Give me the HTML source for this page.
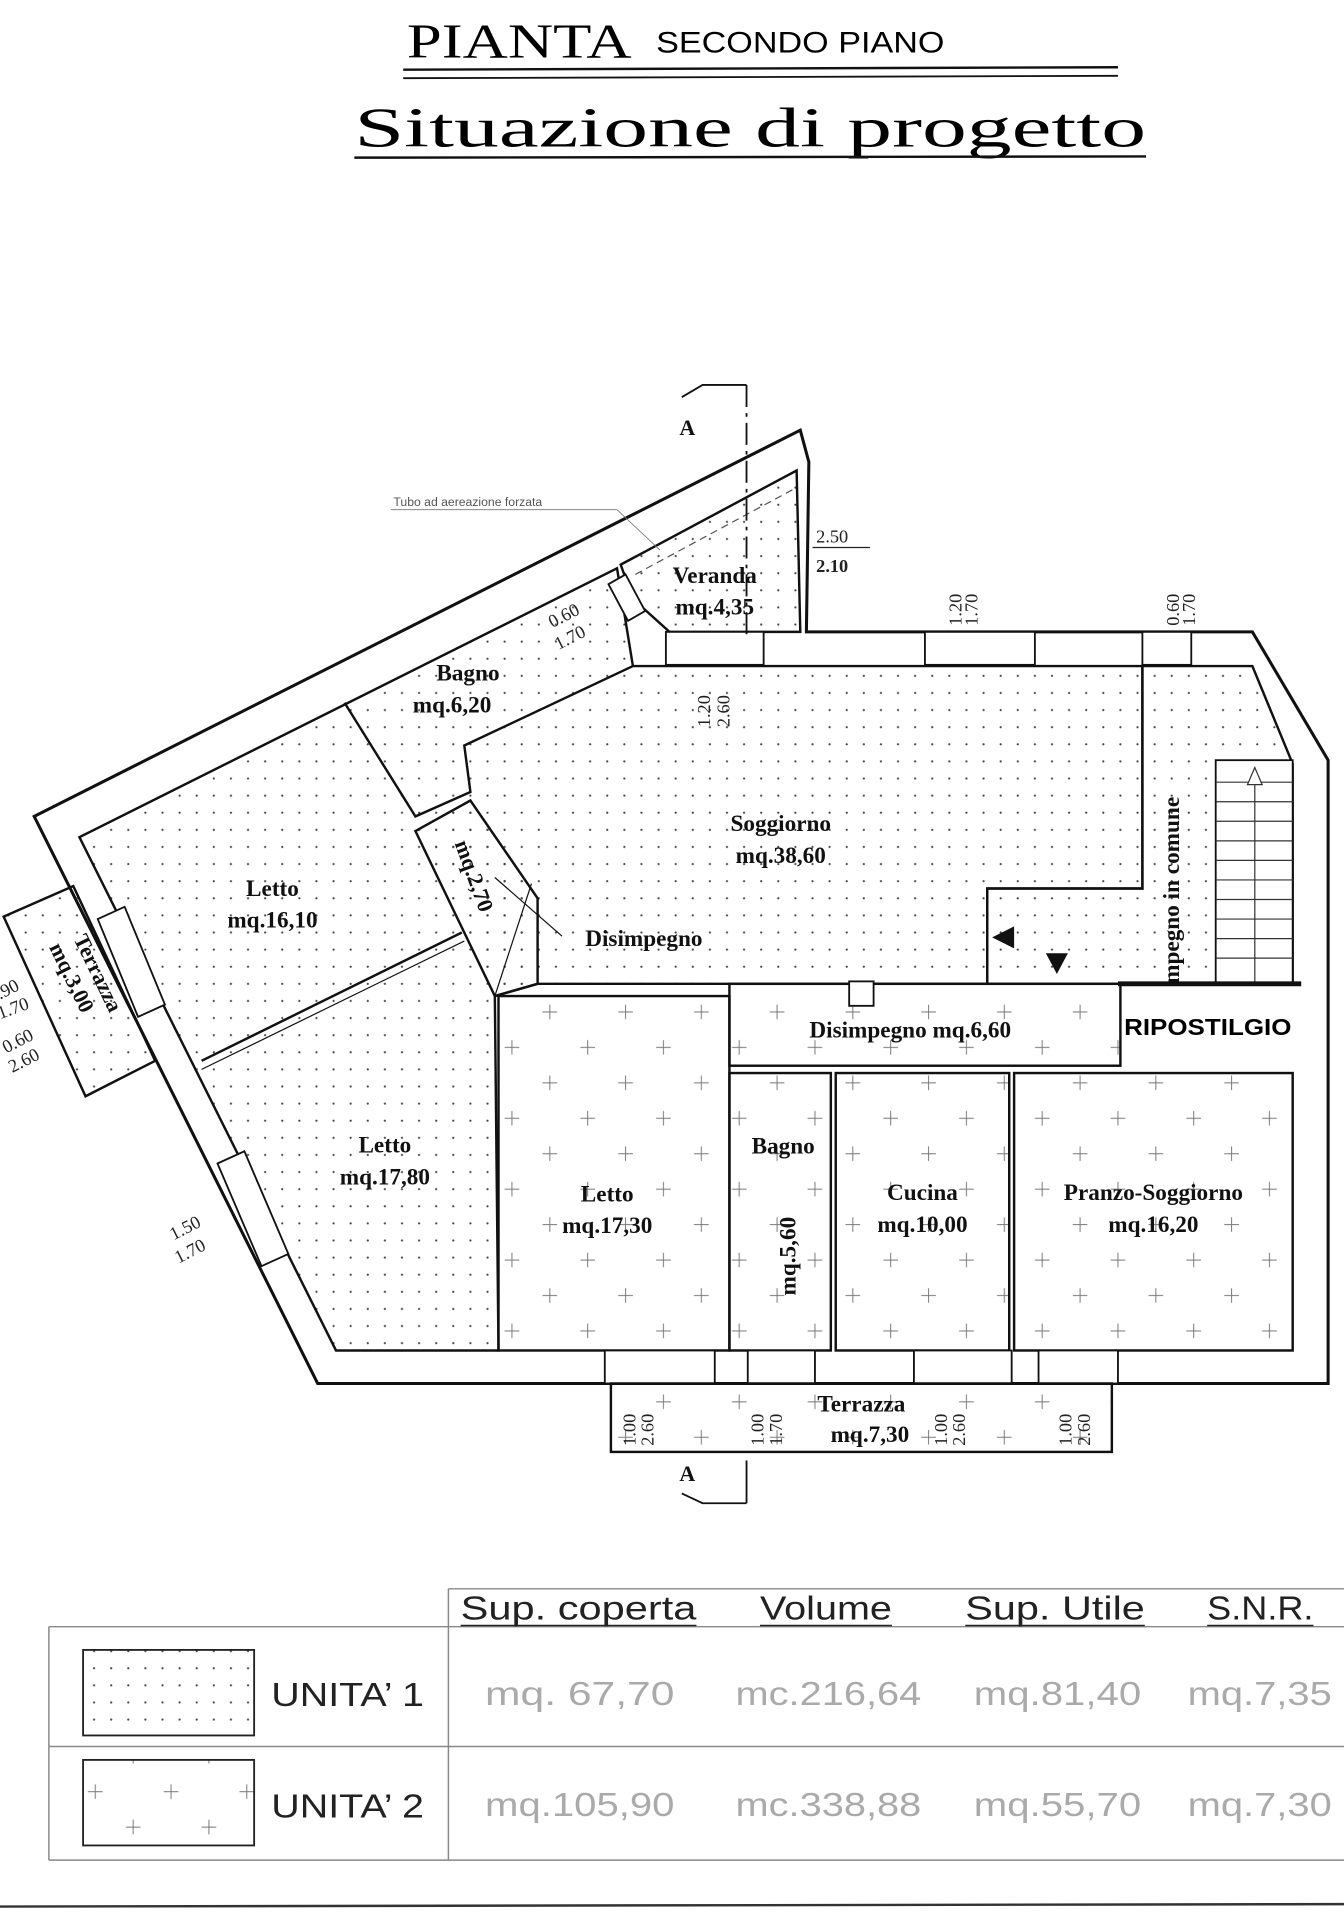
<!DOCTYPE html>
<html><head><meta charset="utf-8"><style>
html,body{margin:0;padding:0;background:#fff;}
svg{display:block;}
.s{font-family:"Liberation Serif",serif;font-weight:bold;fill:#111;}
.d{font-family:"Liberation Serif",serif;fill:#222;font-size:15px;}
.g{font-family:"Liberation Sans",sans-serif;fill:#aaa;font-size:27px;}
</style></head><body>
<svg width="1344" height="1920" viewBox="0 0 1100 1571" preserveAspectRatio="none" xmlns="http://www.w3.org/2000/svg">
<defs>
<pattern id="dots" width="14" height="14" patternUnits="userSpaceOnUse"><circle cx="7" cy="7" r="0.9" fill="#444"/></pattern>
<pattern id="plus" width="62" height="58" patternUnits="userSpaceOnUse">
<path d="M10 16h12M16 10v12M41 45h12M47 39v12" stroke="#777" stroke-width="0.8"/></pattern>
</defs>
<rect width="1100" height="1571" fill="#fff"/>
<!-- titles -->
<text x="333" y="47" font-family="Liberation Serif,serif" font-size="40" textLength="184" lengthAdjust="spacingAndGlyphs">PIANTA</text>
<text x="537" y="43" font-family="Liberation Sans,sans-serif" font-size="24" textLength="236" lengthAdjust="spacingAndGlyphs">SECONDO PIANO</text>
<line x1="330" y1="57" x2="915" y2="55" stroke="#111" stroke-width="2"/>
<line x1="330" y1="64" x2="915" y2="62" stroke="#111" stroke-width="1.5"/>
<text x="290" y="120" font-family="Liberation Serif,serif" font-size="46" textLength="648" lengthAdjust="spacingAndGlyphs">Situazione di progetto</text>
<line x1="290" y1="129" x2="938" y2="128" stroke="#111" stroke-width="2"/>

<!-- plan outer -->
<polygon points="28,668 655,352 662,378 660,517 1025,517 1087,622 1087,1132 260,1132" fill="#fff" stroke="#111" stroke-width="2.5"/>
<!-- unit 1 area -->
<polygon points="65,685 505,465 518,545 935,545 935,727 808,727 808,805 440,805 405,815 408,1105 275,1105" fill="url(#dots)" stroke="#111" stroke-width="2"/>
<!-- corridor/stair area -->
<polygon points="935,545 1025,545 1058,625 1058,805 808,805 808,727 935,727" fill="url(#dots)" stroke="#111" stroke-width="2"/>
<!-- veranda -->
<polygon points="508,462 652,385 655,517 548,517 518,490" fill="url(#dots)" stroke="#111" stroke-width="2"/>
<line x1="520" y1="470" x2="650" y2="400" stroke="#555" stroke-dasharray="6,4"/>
<!-- interior walls unit1 -->
<path d="M282,575 L340,668 L385,648 L380,610 L518,545" fill="none" stroke="#111" stroke-width="2"/>
<polygon points="340,680 385,655 440,735 440,805 405,815" fill="url(#dots)" stroke="#111" stroke-width="2"/>
<line x1="165" y1="868" x2="378" y2="763" stroke="#111" stroke-width="2"/>
<line x1="165" y1="875" x2="380" y2="770" stroke="#111" stroke-width="1"/>
<line x1="435" y1="723" x2="405" y2="815" stroke="#111" stroke-width="1"/>
<!-- unit 2 rooms -->
<rect x="408" y="815" width="189" height="290" fill="url(#plus)" stroke="#111" stroke-width="2"/>
<rect x="597" y="805" width="320" height="67" fill="url(#plus)" stroke="#111" stroke-width="2"/>
<rect x="597" y="878" width="83" height="227" fill="url(#plus)" stroke="#111" stroke-width="2"/>
<rect x="684" y="878" width="142" height="227" fill="url(#plus)" stroke="#111" stroke-width="2"/>
<rect x="830" y="878" width="228" height="227" fill="url(#plus)" stroke="#111" stroke-width="2"/>
<rect x="695" y="803" width="20" height="20" fill="#fff" stroke="#111" stroke-width="1.5"/>
<!-- stair -->
<rect x="995" y="622" width="63" height="183" fill="#fff" stroke="#111" stroke-width="1.5"/>
<g stroke="#333" stroke-width="1">
<line x1="995" y1="640" x2="1058" y2="640"/><line x1="995" y1="656" x2="1058" y2="656"/><line x1="995" y1="672" x2="1058" y2="672"/><line x1="995" y1="688" x2="1058" y2="688"/><line x1="995" y1="704" x2="1058" y2="704"/><line x1="995" y1="720" x2="1058" y2="720"/><line x1="995" y1="736" x2="1058" y2="736"/><line x1="995" y1="752" x2="1058" y2="752"/><line x1="995" y1="768" x2="1058" y2="768"/><line x1="995" y1="784" x2="1058" y2="784"/>
<line x1="1027" y1="640" x2="1027" y2="805"/></g>
<polygon points="1027,628 1021,642 1033,642" fill="#fff" stroke="#333"/>
<line x1="915" y1="805" x2="1065" y2="805" stroke="#111" stroke-width="4"/>
<!-- arrows -->
<polygon points="812,767 830,758 830,776" fill="#111"/>
<polygon points="856,780 874,780 865,797" fill="#111"/>
<!-- windows -->
<g fill="#fff" stroke="#111" stroke-width="1.5">
<rect x="545" y="517" width="80" height="27"/><rect x="757" y="517" width="90" height="27"/><rect x="935" y="517" width="40" height="27"/>
<rect x="495" y="1105" width="90" height="27"/><rect x="612" y="1105" width="55" height="27"/><rect x="748" y="1105" width="80" height="27"/><rect x="850" y="1105" width="65" height="27"/>
</g>
<polygon points="80,752 102,742 135,822 113,832" fill="#fff" stroke="#111" stroke-width="1.5"/>
<polygon points="178,952 200,942 236,1026 214,1036" fill="#fff" stroke="#111" stroke-width="1.5"/>
<polygon points="498,478 512,470 528,500 514,508" fill="#fff" stroke="#111" stroke-width="1.5"/>
<!-- terrazza left -->
<polygon points="3,750 60,725 127,868 70,897" fill="url(#dots)" stroke="#111" stroke-width="2"/>
<!-- terrazza bottom -->
<rect x="500" y="1132" width="410" height="56" fill="url(#plus)" stroke="#111" stroke-width="2"/>
<!-- section lines -->
<line x1="611" y1="315" x2="611" y2="520" stroke="#111" stroke-width="1.5" stroke-dasharray="18,5,3,5"/>
<path d="M558,325 L575,315 L611,315" fill="none" stroke="#111" stroke-width="1.5"/>
<text x="556" y="356" class="s" font-size="18">A</text>
<line x1="611" y1="1195" x2="611" y2="1230" stroke="#111" stroke-width="1.5"/>
<path d="M558,1222 L575,1230 L611,1230" fill="none" stroke="#111" stroke-width="1.5"/>
<text x="556" y="1212" class="s" font-size="18">A</text>
<!-- tubo -->
<text x="322" y="414" font-family="Liberation Sans,sans-serif" font-size="10" fill="#555">Tubo ad aereazione forzata</text>
<line x1="320" y1="417" x2="505" y2="417" stroke="#777" stroke-width="0.7"/>
<line x1="505" y1="417" x2="540" y2="450" stroke="#777" stroke-width="0.7"/>
<!-- Room labels -->
<g class="s" font-size="19" text-anchor="middle">
<text x="585" y="477">Veranda</text><text x="585" y="503">mq.4,35</text>
<text x="383" y="557">Bagno</text><text x="370" y="583">mq.6,20</text>
<text x="639" y="680">Soggiorno</text><text x="639" y="706">mq.38,60</text>
<text x="223" y="733">Letto</text><text x="223" y="759">mq.16,10</text>
<text x="527" y="774">Disimpegno</text>
<text x="315" y="943">Letto</text><text x="315" y="969">mq.17,80</text>
<text x="497" y="983">Letto</text><text x="497" y="1009">mq.17,30</text>
<text x="641" y="944">Bagno</text>
<text x="755" y="982">Cucina</text><text x="755" y="1008">mq.10,00</text>
<text x="944" y="982">Pranzo-Soggiorno</text><text x="944" y="1008">mq.16,20</text>
<text x="745" y="849">Disimpegno  mq.6,60</text>
<text x="705" y="1155">Terrazza</text><text x="712" y="1180">mq.7,30</text>
</g>
<text x="920" y="847" font-family="Liberation Sans,sans-serif" font-weight="bold" font-size="19" textLength="137" lengthAdjust="spacingAndGlyphs">RIPOSTILGIO</text>
<text class="s" font-size="19" transform="translate(651,1060) rotate(-90)">mq.5,60</text>
<text class="s" font-size="19" transform="translate(965,805) rotate(-90)">mpegno in comune</text>
<text class="s" font-size="18" transform="translate(372,690) rotate(70)">mq.2,70</text>
<line x1="405" y1="718" x2="460" y2="766" stroke="#111"/>
<text class="s" font-size="18" transform="translate(60,768) rotate(64)">Terrazza</text>
<text class="s" font-size="18" transform="translate(40,775) rotate(64)">mq.3,00</text>
<!-- dimensions -->
<text x="668" y="444" class="d">2.50</text><line x1="665" y1="448" x2="712" y2="448" stroke="#222"/><text x="668" y="468" class="d" font-weight="bold">2.10</text>
<g class="d">
<text transform="translate(787,512) rotate(-90)">1.20</text><text transform="translate(800,512) rotate(-90)">1.70</text>
<text transform="translate(965,512) rotate(-90)">0.60</text><text transform="translate(978,512) rotate(-90)">1.70</text>
<text transform="translate(581,595) rotate(-90)">1.20</text><text transform="translate(597,595) rotate(-90)">2.60</text>
<text transform="translate(452,514) rotate(-27)">0.60</text><text transform="translate(457,532) rotate(-27)">1.70</text>
<text transform="translate(142,1015) rotate(-27)">1.50</text><text transform="translate(146,1034) rotate(-27)">1.70</text>
<text transform="translate(0,818) rotate(-27)">.90</text><text transform="translate(0,834) rotate(-20)">1.70</text>
<text transform="translate(5,862) rotate(-27)">0.60</text><text transform="translate(10,878) rotate(-27)">2.60</text>
<text transform="translate(520,1183) rotate(-90)">1.00</text><text transform="translate(535,1183) rotate(-90)">2.60</text>
<text transform="translate(625,1183) rotate(-90)">1.00</text><text transform="translate(640,1183) rotate(-90)">1.70</text>
<text transform="translate(775,1183) rotate(-90)">1.00</text><text transform="translate(790,1183) rotate(-90)">2.60</text>
<text transform="translate(877,1183) rotate(-90)">1.00</text><text transform="translate(892,1183) rotate(-90)">2.60</text>
</g>
<!-- table -->
<g stroke="#888" stroke-width="1.2" fill="none">
<line x1="367" y1="1300" x2="1100" y2="1300"/>
<line x1="40" y1="1331" x2="1100" y2="1331"/>
<line x1="40" y1="1429" x2="1100" y2="1429"/>
<line x1="40" y1="1522" x2="1100" y2="1522"/>
<line x1="40" y1="1331" x2="40" y2="1522"/>
<line x1="367" y1="1300" x2="367" y2="1522"/>
</g>
<line x1="0" y1="1560" x2="1100" y2="1558" stroke="#333" stroke-width="2"/>
<g font-family="Liberation Sans,sans-serif" font-size="27" fill="#222">
<text x="377" y="1325" textLength="193" lengthAdjust="spacingAndGlyphs">Sup. coperta</text>
<text x="622" y="1325" textLength="108" lengthAdjust="spacingAndGlyphs">Volume</text>
<text x="790" y="1325" textLength="147" lengthAdjust="spacingAndGlyphs">Sup. Utile</text>
<text x="988" y="1325" textLength="87" lengthAdjust="spacingAndGlyphs">S.N.R.</text>
<text x="222" y="1396" textLength="125" lengthAdjust="spacingAndGlyphs">UNITA’ 1</text>
<text x="222" y="1487" textLength="125" lengthAdjust="spacingAndGlyphs">UNITA’ 2</text>
</g>
<g stroke="#222" stroke-width="1.2"><line x1="377" y1="1330" x2="570" y2="1330"/><line x1="622" y1="1330" x2="730" y2="1330"/><line x1="790" y1="1330" x2="937" y2="1330"/><line x1="988" y1="1330" x2="1075" y2="1330"/></g>
<rect x="68" y="1350" width="140" height="70" fill="url(#dots)" stroke="#222" stroke-width="1.5"/>
<rect x="68" y="1440" width="140" height="70" fill="url(#plus)" stroke="#222" stroke-width="1.5"/>
<g class="g">
<text x="397" y="1395" textLength="155" lengthAdjust="spacingAndGlyphs">mq. 67,70</text>
<text x="602" y="1395" textLength="152" lengthAdjust="spacingAndGlyphs">mc.216,64</text>
<text x="797" y="1395" textLength="137" lengthAdjust="spacingAndGlyphs">mq.81,40</text>
<text x="972" y="1395" textLength="118" lengthAdjust="spacingAndGlyphs">mq.7,35</text>
<text x="397" y="1486" textLength="155" lengthAdjust="spacingAndGlyphs">mq.105,90</text>
<text x="602" y="1486" textLength="152" lengthAdjust="spacingAndGlyphs">mc.338,88</text>
<text x="797" y="1486" textLength="137" lengthAdjust="spacingAndGlyphs">mq.55,70</text>
<text x="972" y="1486" textLength="118" lengthAdjust="spacingAndGlyphs">mq.7,30</text>
</g>
</svg>
</body></html>
